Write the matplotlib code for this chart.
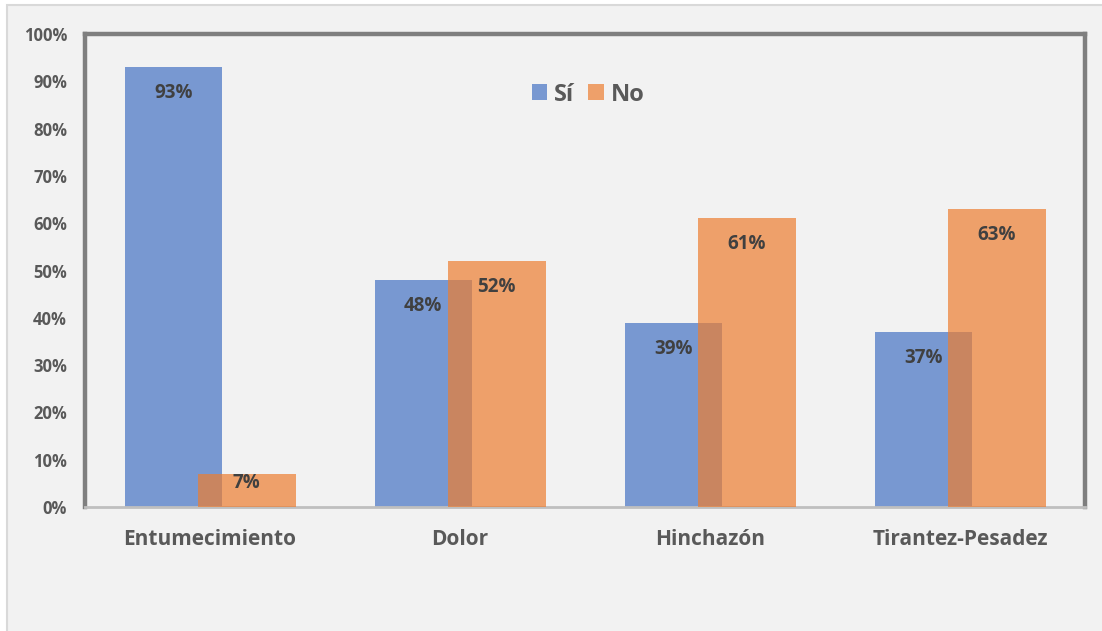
import numpy as np
import matplotlib.pyplot as plt
from matplotlib.patches import Rectangle

categorias = ['Entumecimiento', 'Dolor', 'Hinchazón', 'Tirantez-Pesadez']
si = [93, 48, 39, 37]
no = [7, 52, 61, 63]

plt.rcParams['font.family'] = ['Open Sans', 'DejaVu Sans']

fig = plt.figure(figsize=(11.02, 6.31), dpi=100, facecolor='white')
# marco exterior del gráfico
fig.patches.append(Rectangle((7 / 1102, -0.05), 1.0, 1.05 - 5 / 631, transform=fig.transFigure,
                             facecolor='#f2f2f2', edgecolor='#d9d9d9', linewidth=1.5, zorder=-5))

ax = fig.add_axes([85 / 1102, 124 / 631, 1000 / 1102, 473 / 631])
ax.set_facecolor('#f2f2f2')

x = np.arange(len(categorias))
w = 0.39
off = 0.147
b1 = ax.bar(x - off, [v / 100 for v in si], w, color='#4472C4', alpha=0.7, label='Sí', zorder=2)
b2 = ax.bar(x + off, [v / 100 for v in no], w, color='#ED7D31', alpha=0.7, label='No', zorder=3)

for bars, vals in ((b1, si), (b2, no)):
    for r, v in zip(bars, vals):
        dy = -26 if v >= 10 else -9
        ax.annotate(f'{v}%', (r.get_x() + r.get_width() / 2, v / 100), xytext=(0, dy),
                    textcoords='offset pixels', ha='center', va='center',
                    fontsize=13.5, fontweight='bold', color='#404040', zorder=4)

ax.set_xlim(-0.5, 3.5)
ax.set_ylim(0, 1)
ax.set_yticks(np.arange(0, 1.01, 0.1))
ax.set_yticklabels([f'{int(round(t * 100))}%' for t in np.arange(0, 1.01, 0.1)])
ax.set_xticks(x)
ax.set_xticklabels(categorias)
ax.tick_params(axis='y', length=0, pad=13, labelsize=12, labelcolor='#595959')
ax.tick_params(axis='x', length=0, pad=16, labelsize=15, labelcolor='#595959')
for lab in ax.get_xticklabels() + ax.get_yticklabels():
    lab.set_fontweight('bold')

for s in ('left', 'top', 'right'):
    ax.spines[s].set_color('#7f7f7f')
    ax.spines[s].set_linewidth(3.2)
ax.spines['bottom'].set_color('#bfbfbf')
ax.spines['bottom'].set_linewidth(2)

leg = ax.legend(loc='center', bbox_to_anchor=(0.503, 0.872), ncol=2, frameon=False,
                prop={'size': 17, 'weight': 'bold'}, handlelength=0.65, handleheight=0.65,
                handletextpad=0.3, columnspacing=0.6, labelcolor='#595959')
for h in leg.legend_handles:
    h.set_alpha(0.7)

fig.savefig('out.png', dpi=100, facecolor=fig.get_facecolor())
